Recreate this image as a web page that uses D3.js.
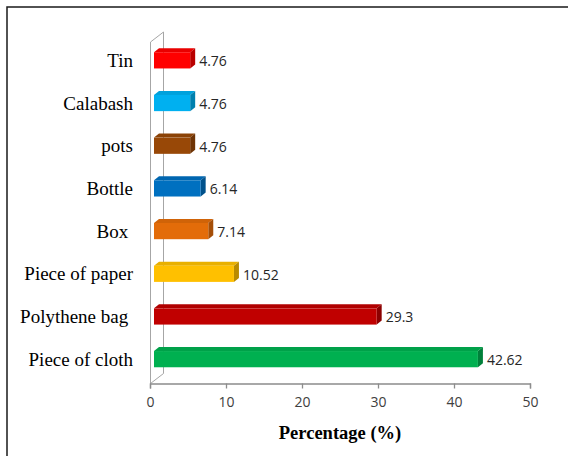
<!DOCTYPE html>
<html>
<head>
<meta charset="utf-8">
<script src="https://cdn.jsdelivr.net/npm/d3@7"></script>
<style>
  html, body { margin: 0; padding: 0; background: #fff; }
  svg { display: block; }
</style>
</head>
<body>
<svg id="chart" width="568" height="456"></svg>
<script>
// Storage items and their share of respondents (%)
const categories = ["Tin", "Calabash", "pots", "Bottle", "Box ", "Piece of paper", "Polythene bag ", "Piece of cloth"];
const values = [4.76, 4.76, 4.76, 6.14, 7.14, 10.52, 29.3, 42.62];
const colors = ["#FF0000", "#00B0F0", "#984807", "#0070C0", "#E36C09", "#FFC000", "#C00000", "#00B050"];
const xTicks = [0, 10, 20, 30, 40, 50];
const axisTitle = "Percentage (%)";

const svg = d3.select("#chart");

// frame
svg.append("rect")
  .attr("x", 7).attr("y", 7).attr("width", 580).attr("height", 480)
  .attr("fill", "none").attr("stroke", "#1a1a1a").attr("stroke-width", 1.5);

// front plane of the plot
const x0 = 150, x1 = 530, yTop = 42, yBot = 383.5;
// depth of the side wall and of the bars
const wallDx = 13, wallDy = -10;
const barOffX = 4, barOffY = -3;
const depthDx = 5, depthDy = -4;

const x = d3.scaleLinear().domain([0, 50]).range([x0, x1]);
const y = d3.scaleBand().domain(categories).range([yTop, yBot]).paddingInner(0.62).paddingOuter(0.31);

// side wall
const wall = svg.append("g").attr("fill", "none").attr("stroke", "#A6A6A6").attr("stroke-width", 1);
wall.append("path").attr("d", d3.line()([
  [x0 + 0.5, yBot], [x0 + 0.5, yTop], [x0 + wallDx + 0.5, yTop + wallDy],
  [x0 + wallDx + 0.5, yBot + wallDy], [x0 + 0.5, yBot]
]));

// x axis
const axis = svg.append("g").attr("transform", `translate(0,${yBot})`)
  .call(d3.axisBottom(x).tickValues(xTicks).tickSize(5).tickPadding(9).tickFormat(d3.format("d")));
axis.select(".domain").attr("stroke", "#8C8C8C").attr("stroke-width", 1.3);
axis.selectAll(".tick line").attr("stroke", "#8C8C8C").attr("stroke-width", 1.3);
axis.selectAll(".tick text")
  .attr("font-family", "'Open Sans', sans-serif").attr("font-size", 14).attr("fill", "#404040");

// bars: front face, top face, end face
const bars = svg.append("g");
categories.forEach((c, i) => {
  const v = values[i];
  const col = d3.color(colors[i]);
  const left = x(0) + barOffX;
  const right = x(v) + barOffX;
  const top = y(c) + barOffY;
  const h = y.bandwidth();
  const g = bars.append("g");
  // top face
  g.append("path").attr("fill", col.darker(0.25))
    .attr("d", d3.line()([[left, top], [left + depthDx, top + depthDy], [right + depthDx, top + depthDy], [right, top]]) + "Z");
  // end face
  g.append("path").attr("fill", col.darker(0.9))
    .attr("d", d3.line()([[right, top], [right + depthDx, top + depthDy], [right + depthDx, top + h + depthDy], [right, top + h]]) + "Z");
  // front face
  g.append("rect").attr("x", left).attr("y", top).attr("width", right - left).attr("height", h).attr("fill", col);
  // value label
  svg.append("text")
    .attr("x", right + depthDx + 4).attr("y", top + h / 2 + 1)
    .attr("dy", "0.35em")
    .attr("font-family", "'Open Sans', sans-serif").attr("font-size", 14).attr("fill", "#262626")
    .text(v);
});

// category labels
svg.append("g").selectAll("text").data(categories).join("text")
  .attr("x", 133).attr("y", d => y(d) + barOffY + y.bandwidth() / 2)
  .attr("dy", "0.35em")
  .attr("text-anchor", "end")
  .style("white-space", "pre")
  .attr("font-family", "'Liberation Serif', 'Times New Roman', serif").attr("font-size", 19).attr("fill", "#000")
  .text(d => d);

// axis title
svg.append("text")
  .attr("x", (x0 + x1) / 2).attr("y", 439)
  .attr("text-anchor", "middle")
  .attr("font-family", "'Liberation Serif', 'Times New Roman', serif")
  .attr("font-size", 18.5).attr("font-weight", "bold").attr("fill", "#000")
  .text(axisTitle);
</script>
</body>
</html>
